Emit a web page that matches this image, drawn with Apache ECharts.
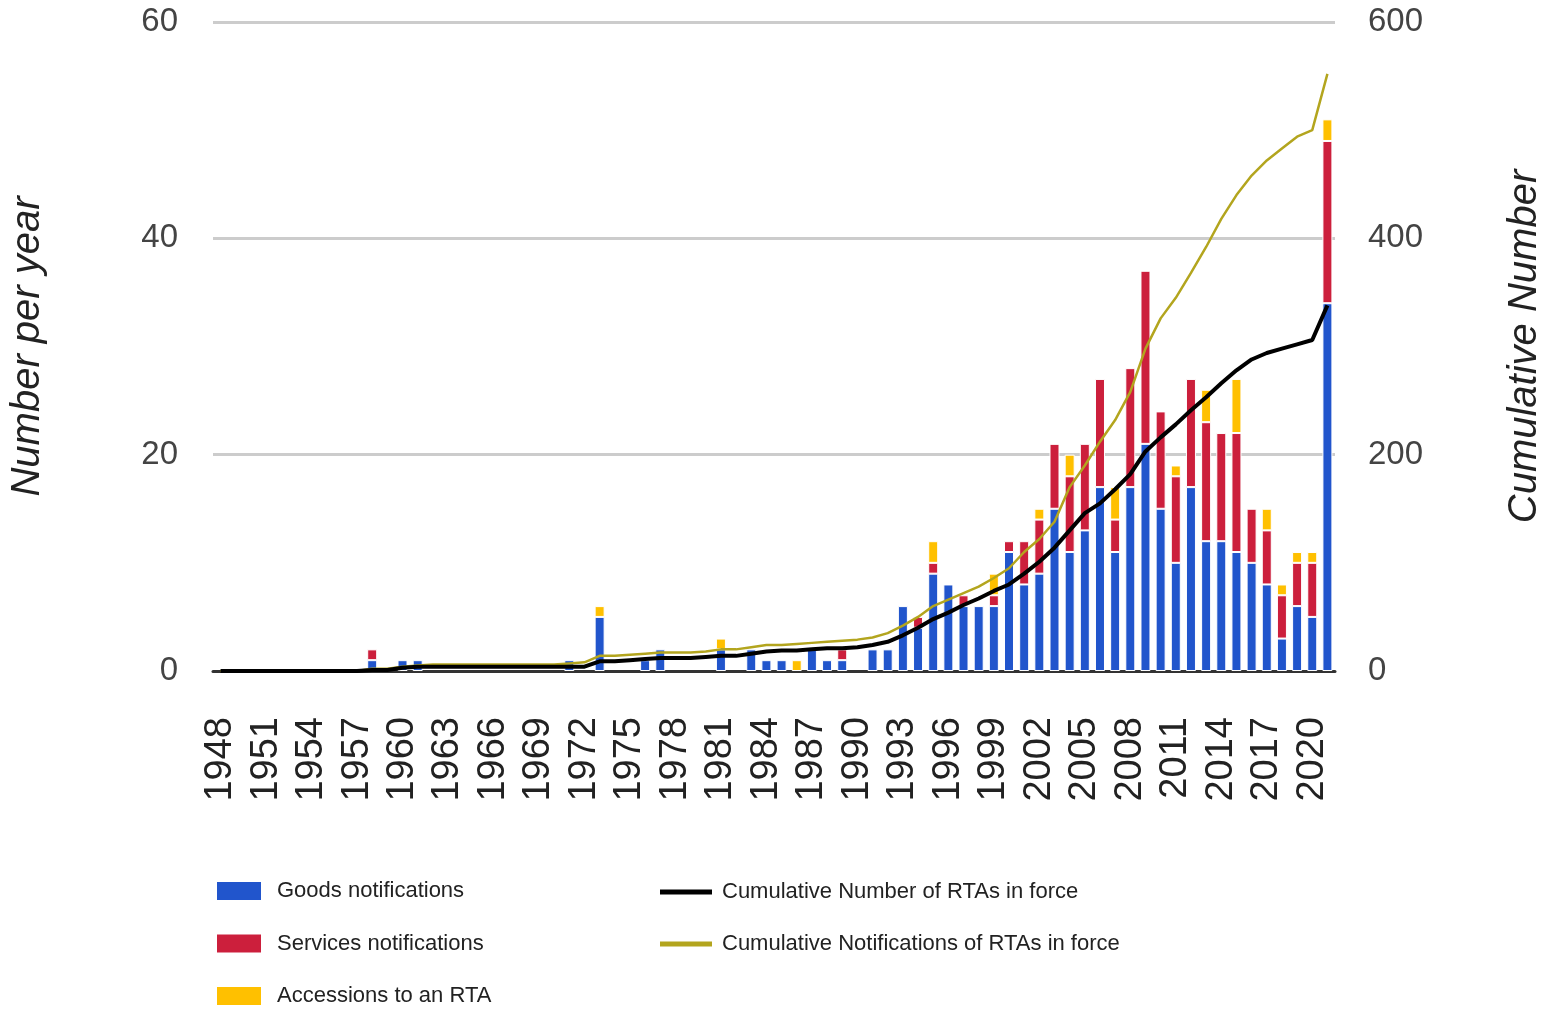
<!DOCTYPE html>
<html>
<head>
<meta charset="utf-8">
<title>RTA notifications</title>
<script src="https://cdn.jsdelivr.net/npm/echarts@6/dist/echarts.min.js"></script>
<style>
    html, body { margin: 0; padding: 0; background: #fff; }
    #chart { width: 1558px; height: 1011px; }
</style>
</head>
<body>
<div id="chart"></div>
<script>
// years 1948 - 2021
const years = [
    '1948', '1949', '1950', '1951', '1952', '1953', '1954', '1955', '1956', '1957',
    '1958', '1959', '1960', '1961', '1962', '1963', '1964', '1965', '1966', '1967',
    '1968', '1969', '1970', '1971', '1972', '1973', '1974', '1975', '1976', '1977',
    '1978', '1979', '1980', '1981', '1982', '1983', '1984', '1985', '1986', '1987',
    '1988', '1989', '1990', '1991', '1992', '1993', '1994', '1995', '1996', '1997',
    '1998', '1999', '2000', '2001', '2002', '2003', '2004', '2005', '2006', '2007',
    '2008', '2009', '2010', '2011', '2012', '2013', '2014', '2015', '2016', '2017',
    '2018', '2019', '2020', '2021'
];

const goods = [
    0, 0, 0, 0, 0, 0, 0, 0, 0, 0,
    1, 0, 1, 1, 0, 0, 0, 0, 0, 0,
    0, 0, 0, 1, 0, 5, 0, 0, 1, 2,
    0, 0, 0, 2, 0, 2, 1, 1, 0, 2,
    1, 1, 0, 2, 2, 6, 4, 9, 8, 6,
    6, 6, 11, 8, 9, 15, 11, 13, 17, 11,
    17, 21, 15, 10, 17, 12, 12, 11, 10, 8,
    3, 6, 5, 34
];

const services = [
    0, 0, 0, 0, 0, 0, 0, 0, 0, 0,
    1, 0, 0, 0, 0, 0, 0, 0, 0, 0,
    0, 0, 0, 0, 0, 0, 0, 0, 0, 0,
    0, 0, 0, 0, 0, 0, 0, 0, 0, 0,
    0, 1, 0, 0, 0, 0, 1, 1, 0, 1,
    0, 1, 1, 4, 5, 6, 7, 8, 10, 3,
    11, 16, 9, 8, 10, 11, 10, 11, 5, 5,
    4, 4, 5, 15
];

const accessions = [
    0, 0, 0, 0, 0, 0, 0, 0, 0, 0,
    0, 0, 0, 0, 0, 0, 0, 0, 0, 0,
    0, 0, 0, 0, 0, 1, 0, 0, 0, 0,
    0, 0, 0, 1, 0, 0, 0, 0, 1, 0,
    0, 0, 0, 0, 0, 0, 0, 2, 0, 0,
    0, 2, 0, 0, 1, 0, 2, 0, 0, 3,
    0, 0, 0, 1, 0, 3, 0, 5, 0, 2,
    1, 1, 1, 2
];

const rtasInForce = [
    0, 0, 0, 0, 0, 0, 0, 0, 0, 0,
    1, 1, 3, 4, 4, 4, 4, 4, 4, 4,
    4, 4, 4, 4, 4, 9, 9, 10, 11, 12,
    12, 12, 13, 14, 14, 16, 18, 19, 19, 20,
    21, 21, 22, 24, 27, 33, 40, 48, 54, 61,
    67, 74, 80, 90, 101, 114, 130, 146, 155, 168,
    182, 203, 216, 228, 241, 253, 266, 278, 288, 294,
    298, 302, 306, 338
];

const notificationsInForce = [
    0, 0, 0, 0, 0, 0, 0, 0, 0, 0,
    2, 2, 4, 5, 6, 6, 6, 6, 6, 6,
    6, 6, 6, 7, 8, 14, 14, 15, 16, 17,
    17, 17, 18, 20, 20, 22, 24, 24, 25, 26,
    27, 28, 29, 31, 35, 42, 50, 60, 66, 72,
    78, 86, 95, 110, 122, 138, 170, 190, 212, 232,
    258, 298, 326, 345, 368, 392, 418, 440, 458, 472,
    483, 494, 500, 552
];

const leftTicks = { min: 0, max: 60, interval: 20 };
const rightTicks = { min: 0, max: 600, interval: 200 };

let myChart = echarts.init(document.getElementById('chart'));

// zero-height bars would paint their white border over the baseline
const noZero = (arr) => arr.map(v => (v === 0 ? '-' : v));

const barStyle = (color) => ({
    color: color,
    borderColor: '#ffffff',
    borderWidth: 1
});

let option = {
    animation: false,
    textStyle: { fontFamily: 'Liberation Sans, Arial, sans-serif' },
    grid: {
        left: 213,
        right: 223,
        top: 22,
        bottom: 340
    },
    legend: [
        {
            left: 215,
            top: 880,
            padding: 0,
            orient: 'vertical',
            itemWidth: 46,
            itemHeight: 20,
            itemGap: 30.5,
            icon: 'rect',
            textStyle: { fontSize: 22, color: '#222', height: 20, lineHeight: 20, padding: [0, 0, 0, 10] },
            data: ['Goods notifications', 'Services notifications', 'Accessions to an RTA']
        },
        {
            left: 660,
            top: 881,
            padding: 0,
            orient: 'vertical',
            itemWidth: 52,
            itemHeight: 5,
            itemGap: 30,
            icon: 'rect',
            textStyle: { fontSize: 22, color: '#222', height: 22, lineHeight: 22, padding: [0, 0, 0, 5] },
            data: ['Cumulative Number of RTAs in force', 'Cumulative Notifications of RTAs in force']
        }
    ],
    xAxis: {
        type: 'category',
        data: years,
        boundaryGap: true,
        axisTick: { show: false },
        axisLine: { show: true, lineStyle: { color: '#333', width: 3 } },
        axisLabel: {
            interval: 2,
            rotate: 90,
            margin: 46,
            fontSize: 38,
            color: '#222'
        }
    },
    yAxis: [
        {
            type: 'value',
            min: leftTicks.min,
            max: leftTicks.max,
            interval: leftTicks.interval,
            name: 'Number per year',
            nameLocation: 'middle',
            nameRotate: 90,
            nameGap: 165,
            nameTextStyle: { fontSize: 40, fontStyle: 'italic', color: '#222' },
            axisLine: { show: false },
            axisTick: { show: false },
            axisLabel: { fontSize: 33, color: '#444', margin: 35 },
            splitLine: { lineStyle: { color: '#cccccc', width: 3 } }
        },
        {
            type: 'value',
            min: rightTicks.min,
            max: rightTicks.max,
            interval: rightTicks.interval,
            name: 'Cumulative Number',
            nameLocation: 'middle',
            nameRotate: 90,
            nameGap: 170,
            nameTextStyle: { fontSize: 40, fontStyle: 'italic', color: '#222' },
            axisLine: { show: false },
            axisTick: { show: false },
            axisLabel: { fontSize: 33, color: '#444', margin: 33 },
            splitLine: { show: false }
        }
    ],
    series: [
        {
            name: 'Goods notifications',
            type: 'bar',
            stack: 'notes',
            barWidth: 10,
            itemStyle: barStyle('#2155cc'),
            data: noZero(goods)
        },
        {
            name: 'Services notifications',
            type: 'bar',
            stack: 'notes',
            barWidth: 10,
            itemStyle: barStyle('#cc1f3c'),
            data: noZero(services)
        },
        {
            name: 'Accessions to an RTA',
            type: 'bar',
            stack: 'notes',
            barWidth: 10,
            itemStyle: barStyle('#ffc000'),
            data: noZero(accessions)
        },
        {
            name: 'Cumulative Number of RTAs in force',
            type: 'line',
            yAxisIndex: 1,
            symbol: 'none',
            z: 4,
            itemStyle: { color: '#000000' },
            lineStyle: { color: '#000000', width: 4 },
            data: rtasInForce
        },
        {
            name: 'Cumulative Notifications of RTAs in force',
            type: 'line',
            yAxisIndex: 1,
            symbol: 'none',
            z: 3,
            itemStyle: { color: '#b3a51e' },
            lineStyle: { color: '#b3a51e', width: 2.5 },
            data: notificationsInForce
        }
    ]
};

option && myChart.setOption(option);
</script>
</body>
</html>
